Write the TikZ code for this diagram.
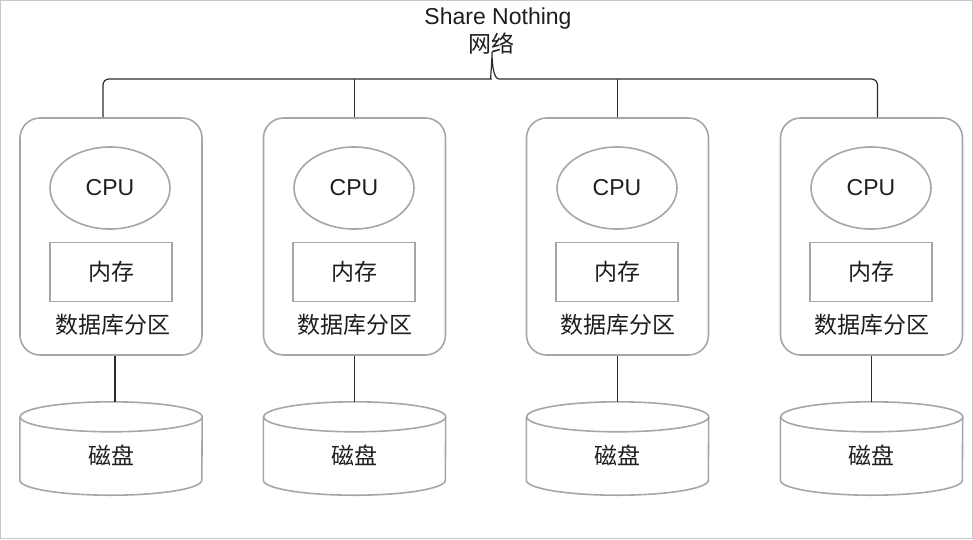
\documentclass[tikz,border=0pt]{standalone}
\usepackage{fontspec}
\setmainfont{Liberation Sans}
\newfontfamily\cjk{Noto Sans CJK SC}
\usetikzlibrary{positioning,shapes.geometric,calc}
\definecolor{boxgray}{HTML}{A3A8A7}
\definecolor{linedark}{HTML}{2B2B2B}
\definecolor{textdark}{HTML}{1E1E1E}
\definecolor{framegray}{HTML}{C2CAC8}

\begin{document}
\begin{tikzpicture}[
    x=1pt, y=-1pt,
    txt/.style={font=\fontsize{23}{27}\selectfont, text=textdark},
    part/.style={rectangle, draw=boxgray, line width=1.6pt, rounded corners=20pt,
                 minimum width=182pt, minimum height=237pt},
    cpu/.style={ellipse, draw=boxgray, line width=1.6pt, inner sep=0pt,
                minimum width=120pt, minimum height=82pt, txt},
    mem/.style={rectangle, draw=boxgray, line width=1.6pt,
                minimum width=122pt, minimum height=59pt, txt},
    disk/.style={rectangle, inner sep=0pt, minimum width=182pt, minimum height=93pt},
    diskline/.style={draw=boxgray, line width=1.6pt},
    netline/.style={draw=linedark, line width=1.2pt},
    link/.style={draw=linedark, line width=1.2pt}
]
\useasboundingbox (0,0) rectangle (973,539);
\draw[framegray, line width=1pt] (0.5,0.5) rectangle (972.5,538.5);

% network
\node[txt] (title) at (498,19) {Share Nothing};
\node[txt] (netlbl) at (491,44) {\cjk 网络};
\coordinate (hub) at (492,52);
\coordinate (bus) at (492,79);

% partitions
\node[part] (p1) at (111,236.5) {};
\node[cpu] (c1) at (110,188) {CPU};
\node[mem] (m1) at (111,272) {\cjk 内存};
\node[txt] (l1) at (113,325) {\cjk 数据库分区};

\node[part] (p2) at (354.5,236.5) {};
\node[cpu] (c2) at (354,188) {CPU};
\node[mem] (m2) at (354,272) {\cjk 内存};
\node[txt] (l2) at (355,325) {\cjk 数据库分区};

\node[part] (p3) at (617.5,236.5) {};
\node[cpu] (c3) at (617,188) {CPU};
\node[mem] (m3) at (617,272) {\cjk 内存};
\node[txt] (l3) at (618,325) {\cjk 数据库分区};

\node[part] (p4) at (871.5,236.5) {};
\node[cpu] (c4) at (871,188) {CPU};
\node[mem] (m4) at (871,272) {\cjk 内存};
\node[txt] (l4) at (872,325) {\cjk 数据库分区};

% disks
\node[disk] (d1) at (111,448.5) {};
\node[txt] (t1) at (111,455) {\cjk 磁盘};
\node[disk] (d2) at (354.5,448.5) {};
\node[txt] (t2) at (354.5,455) {\cjk 磁盘};
\node[disk] (d3) at (617.5,448.5) {};
\node[txt] (t3) at (617.5,455) {\cjk 磁盘};
\node[disk] (d4) at (871.5,448.5) {};
\node[txt] (t4) at (871.5,455) {\cjk 磁盘};

\foreach \d in {d1,d2,d3,d4}
  \draw[diskline] ([yshift=-15pt]\d.north west) -- ([yshift=15pt]\d.south west)
    arc[start angle=180, end angle=360, x radius=91pt, y radius=15pt]
    -- ([yshift=-15pt]\d.north east)
    arc[start angle=0, end angle=360, x radius=91pt, y radius=15pt];

% bus
\draw[netline] ([xshift=-8pt]p1.north) [rounded corners=6pt] |- ($(bus)+(-7,0)$)
  [sharp corners] .. controls ($(bus)+(-2,0)$) and ($(hub)+(0,14)$) .. (hub)
  .. controls ($(hub)+(0,14)$) and ($(bus)+(2,0)$) .. ($(bus)+(7,0)$)
  [rounded corners=6pt] -| ([xshift=6pt]p4.north);
\draw[netline] (p2.north) -- (p2.north |- bus);
\draw[netline] (p3.north) -- (p3.north |- bus);

% links
\draw[link] ([xshift=4pt]p1.south) -- ([xshift=4pt]d1.north);
\draw[link] (p2.south) -- (d2.north);
\draw[link] (p3.south) -- (d3.north);
\draw[link] (p4.south) -- (d4.north);
\end{tikzpicture}
\end{document}
